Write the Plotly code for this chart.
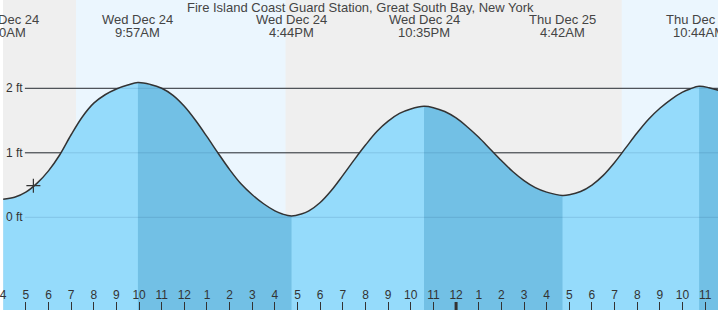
import plotly.graph_objects as go
import pandas as pd

TITLE = "Fire Island Coast Guard Station, Great South Bay, New York"

# Tide curve (time, height in ft)
TIMES = [
    "2025-12-24 04:00", "2025-12-24 04:30", "2025-12-24 05:00", "2025-12-24 05:30",
    "2025-12-24 06:00", "2025-12-24 06:30", "2025-12-24 07:00", "2025-12-24 07:30",
    "2025-12-24 08:00", "2025-12-24 08:30", "2025-12-24 09:00", "2025-12-24 09:30",
    "2025-12-24 09:57",
    "2025-12-24 10:30", "2025-12-24 11:00", "2025-12-24 11:30", "2025-12-24 12:00",
    "2025-12-24 12:30", "2025-12-24 13:00", "2025-12-24 13:30", "2025-12-24 14:00",
    "2025-12-24 14:30", "2025-12-24 15:00", "2025-12-24 15:30", "2025-12-24 16:00",
    "2025-12-24 16:20", "2025-12-24 16:44",
    "2025-12-24 17:10", "2025-12-24 17:30", "2025-12-24 18:00", "2025-12-24 18:30",
    "2025-12-24 19:00", "2025-12-24 19:30", "2025-12-24 20:00", "2025-12-24 20:30",
    "2025-12-24 21:00", "2025-12-24 21:30", "2025-12-24 22:00", "2025-12-24 22:35",
    "2025-12-24 23:00", "2025-12-24 23:30", "2025-12-25 00:00", "2025-12-25 00:30",
    "2025-12-25 01:00", "2025-12-25 01:30", "2025-12-25 02:00", "2025-12-25 02:30",
    "2025-12-25 03:00", "2025-12-25 03:30", "2025-12-25 04:00", "2025-12-25 04:42",
    "2025-12-25 05:00", "2025-12-25 05:30", "2025-12-25 06:00", "2025-12-25 06:30",
    "2025-12-25 07:00", "2025-12-25 07:30", "2025-12-25 08:00", "2025-12-25 08:30",
    "2025-12-25 09:00", "2025-12-25 09:30", "2025-12-25 10:00", "2025-12-25 10:20",
    "2025-12-25 10:44", "2025-12-25 11:10", "2025-12-25 11:35",
]
HEIGHTS = [
    0.28, 0.31, 0.39, 0.53,
    0.72, 0.97, 1.28, 1.56,
    1.77, 1.90, 1.99, 2.05,
    2.09,
    2.06, 2.00, 1.89, 1.72,
    1.50, 1.25, 0.99, 0.74,
    0.52, 0.35, 0.21, 0.10,
    0.05, 0.02,
    0.05, 0.10, 0.23, 0.42,
    0.65, 0.89, 1.12, 1.33,
    1.49, 1.61, 1.68, 1.72,
    1.70, 1.64, 1.54, 1.40,
    1.24, 1.06, 0.88, 0.71,
    0.57, 0.46, 0.39, 0.34,
    0.35, 0.40, 0.50, 0.65,
    0.85, 1.08, 1.31, 1.52,
    1.69, 1.83, 1.94, 1.99,
    2.03, 2.01, 1.97,
]

EXTREME_TIMES = ["2025-12-24 04:00", "2025-12-24 09:57", "2025-12-24 16:44",
                 "2025-12-24 22:35", "2025-12-25 04:42", "2025-12-25 10:44"]
EXTREME_DATES = ["Wed Dec 24", "Wed Dec 24", "Wed Dec 24", "Wed Dec 24", "Thu Dec 25", "Thu Dec 25"]
EXTREME_CLOCK = ["4:00AM", "9:57AM", "4:44PM", "10:35PM", "4:42AM", "10:44AM"]
EXTREME_TYPE = ["L", "H", "L", "H", "L", "H"]

SUNRISE = ["2025-12-24 07:13", "2025-12-25 07:19"]
SUNSET = ["2025-12-24 16:28", "2025-12-25 16:33"]

NOW_TIME = "2025-12-24 05:20"
NOW_HEIGHT = 0.49

GRID_FT = [0, 1, 2]
GRID_LABELS = ["0 ft", "1 ft", "2 ft"]

TICK_LABELS = ["4", "5", "6", "7", "8", "9", "10", "11",
               "12", "1", "2", "3", "4", "5", "6", "7", "8", "9", "10", "11",
               "12", "1", "2", "3", "4", "5", "6", "7", "8", "9", "10", "11"]
MIDNIGHT = "2025-12-25 00:00"

X_RANGE = ["2025-12-24 03:59:30", "2025-12-25 11:34:00"]
Y_RANGE = [-1.437, 3.369]

# colours
NIGHT = "#efefef"
DAY = "#ebf6fe"
FILL_RISE = "#95dbfb"
FILL_FALL = "#72c0e5"
INK = "#333333"
FONT = "Liberation Sans, Arial, sans-serif"

W, H = 718, 310

t = pd.to_datetime(pd.Series(TIMES))
h = pd.Series(HEIGHTS)
BASE = Y_RANGE[0] - 0.5

fig = go.Figure()

# full (rising-colour) fill
fig.add_trace(go.Scatter(x=[t.iloc[0], t.iloc[-1]], y=[BASE, BASE], mode="lines",
                         line=dict(width=0), showlegend=False, hoverinfo="skip"))
fig.add_trace(go.Scatter(x=t, y=h, mode="lines", line=dict(width=0, shape="spline"),
                         fill="tonexty", fillcolor=FILL_RISE, showlegend=False, hoverinfo="skip"))

# falling tide (high -> next low) darker fill
ext_t = pd.to_datetime(pd.Series(EXTREME_TIMES))
for i, typ in enumerate(EXTREME_TYPE):
    if typ != "H":
        continue
    start = ext_t.iloc[i]
    stop = ext_t.iloc[i + 1] if i + 1 < len(ext_t) else t.iloc[-1]
    m = (t >= start) & (t <= stop)
    seg_t, seg_h = t[m], h[m]
    fig.add_trace(go.Scatter(x=[seg_t.iloc[0], seg_t.iloc[-1]], y=[BASE, BASE], mode="lines",
                             line=dict(width=0), showlegend=False, hoverinfo="skip"))
    fig.add_trace(go.Scatter(x=seg_t, y=seg_h, mode="lines", line=dict(width=0, shape="spline"),
                             fill="tonexty", fillcolor=FILL_FALL, showlegend=False, hoverinfo="skip"))

# curve line
fig.add_trace(go.Scatter(x=t, y=h, mode="lines", line=dict(color=INK, width=1.5, shape="spline"),
                         showlegend=False, hoverinfo="skip"))

# current time marker
fig.add_trace(go.Scatter(x=[NOW_TIME], y=[NOW_HEIGHT], mode="markers",
                         marker=dict(symbol="cross-thin", size=10, line=dict(color=INK, width=1.2)),
                         showlegend=False, hoverinfo="skip"))

shapes = []
for sr, ss in zip(SUNRISE, SUNSET):
    shapes.append(dict(type="rect", xref="x", yref="paper", x0=sr, x1=ss, y0=0, y1=1,
                       fillcolor=DAY, line=dict(width=0), layer="below"))
grid_x0 = 22 / W
for g in GRID_FT:
    shapes.append(dict(type="line", xref="paper", yref="y", x0=grid_x0, x1=1, y0=g, y1=g,
                       line=dict(color=INK, width=1), layer="below"))
for g in GRID_FT:
    shapes.append(dict(type="line", xref="paper", yref="y", x0=grid_x0, x1=1, y0=g, y1=g,
                       line=dict(color="rgba(0,50,90,0.13)", width=1), layer="above"))
shapes.append(dict(type="line", xref="x", yref="paper", x0=MIDNIGHT, x1=MIDNIGHT, y0=0, y1=8 / H,
                   line=dict(color=INK, width=3), layer="above"))

annotations = []
annotations.append(dict(text=TITLE, xref="paper", yref="paper", x=0.5, y=1 - 7 / H,
                        xanchor="center", yanchor="middle", showarrow=False,
                        font=dict(family=FONT, size=13, color="#444444")))
for et, d, c in zip(EXTREME_TIMES, EXTREME_DATES, EXTREME_CLOCK):
    annotations.append(dict(text=d, xref="x", yref="paper", x=et, y=1 - 20 / H,
                            xanchor="center", yanchor="middle", showarrow=False,
                            font=dict(family=FONT, size=13, color="#444444")))
    annotations.append(dict(text=c, xref="x", yref="paper", x=et, y=1 - 32 / H,
                            xanchor="center", yanchor="middle", showarrow=False,
                            font=dict(family=FONT, size=13, color="#444444")))
for g, lab in zip(GRID_FT, GRID_LABELS):
    annotations.append(dict(text=lab, xref="paper", yref="y", x=0, y=g, xshift=1,
                            xanchor="left", yanchor="middle", showarrow=False,
                            font=dict(family=FONT, size=12, color=INK)))

tickvals = pd.date_range("2025-12-24 04:00", periods=len(TICK_LABELS), freq="h")

fig.update_layout(
    width=W, height=H,
    margin=dict(l=0, r=0, t=0, b=0),
    paper_bgcolor="white",
    plot_bgcolor=NIGHT,
    shapes=shapes,
    annotations=annotations,
    xaxis=dict(type="date", range=X_RANGE, tickvals=tickvals, ticktext=TICK_LABELS,
               ticks="inside", ticklen=8, tickcolor=INK, tickwidth=1,
               ticklabelposition="inside", ticklabeloverflow="allow",
               tickfont=dict(family=FONT, size=12, color=INK),
               showgrid=False, zeroline=False, showline=False, fixedrange=True),
    yaxis=dict(range=Y_RANGE, showgrid=False, zeroline=False, showticklabels=False,
               showline=False, fixedrange=True),
    font=dict(family=FONT),
)

fig.write_html("out.html")
